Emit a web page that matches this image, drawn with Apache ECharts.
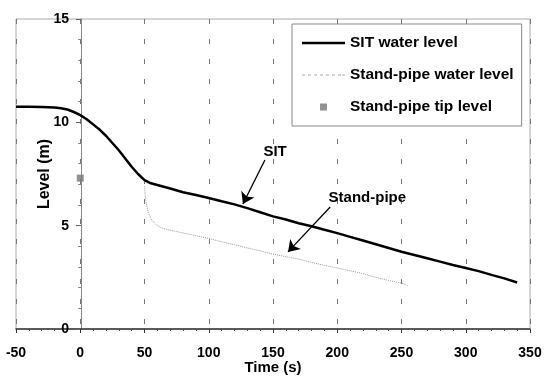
<!DOCTYPE html>
<html>
<head>
<meta charset="utf-8">
<script src="https://cdn.jsdelivr.net/npm/echarts@6/dist/echarts.min.js"></script>
<style>
    html, body { margin: 0; padding: 0; background: #fff; }
    #chart { width: 544px; height: 376px; }
</style>
</head>
<body>
<div id="chart"></div>
<script>
// SIT water level
const sitTime = [-50, -40, -30, -20, -15, -10, -5, 0, 5, 10, 15, 20, 25, 30, 35, 40, 45, 50, 55, 60,
    70, 80, 90, 100, 110, 120, 130, 140, 150, 160, 170, 180, 190, 200, 210, 220, 230, 240, 250,
    260, 270, 280, 290, 300, 310, 320, 330, 340];
const sitLevel = [10.75, 10.75, 10.74, 10.72, 10.68, 10.62, 10.5, 10.35, 10.15, 9.9, 9.65, 9.35, 9.0, 8.65, 8.25, 7.85, 7.5, 7.2, 7.05, 6.97,
    6.8, 6.62, 6.48, 6.34, 6.18, 6.03, 5.85, 5.65, 5.45, 5.3, 5.12, 4.97, 4.8, 4.64, 4.46, 4.28, 4.1, 3.92, 3.74,
    3.58, 3.42, 3.26, 3.1, 2.95, 2.8, 2.62, 2.45, 2.25];

// stand-pipe water level
const pipeTime = [50, 51, 53, 56, 60, 65, 70, 80, 90, 100, 110, 120, 130, 140, 150, 160, 170, 180,
    190, 200, 210, 220, 230, 240, 250, 255];
const pipeLevel = [6.9, 6.2, 5.6, 5.25, 5.0, 4.85, 4.78, 4.65, 4.52, 4.38, 4.22, 4.08, 3.92, 3.78, 3.62, 3.5, 3.38, 3.22,
    3.08, 2.95, 2.82, 2.68, 2.5, 2.35, 2.22, 2.1];

// stand-pipe tip level (single point)
const tipTime = [0];
const tipLevel = [7.3];

// annotations: [text x, text y], arrow [from x, from y, to x, to y]
const sitNote = { text: 'SIT', at: [151.6, 8.56], arrow: [143.7, 8.18, 126.6, 6.05] };
const pipeNote = { text: 'Stand-pipe', at: [223.4, 6.34], arrow: [194.5, 5.9, 161.7, 3.73] };

const zip = (xs, ys) => xs.map((x, i) => [x, ys[i]]);

const FONT = '"Liberation Sans", Arial, sans-serif';

// legend glyphs: solid bar, row of faint dashes, small square
const ICON_SOLID = 'path://M0,0H43V2.4H0Z';
const ICON_DOTS = 'path://M0,0H3V1H0Z M6,0H9V1H6Z M12,0H15V1H12Z M18,0H21V1H18Z M24,0H27V1H24Z M30,0H33V1H30Z M36,0H39V1H36Z M40,0H43V1H40Z';
const ICON_TIP = 'path://M0,0L0.01,0L0,0.01Z M43,14L42.99,14L43,13.99Z M18,3.5H25V10.5H18Z';

const myChart = echarts.init(document.getElementById('chart'));

function note(n) {
    return {
        markPoint: {
            symbol: 'circle',
            symbolSize: 0,
            label: {
                show: true,
                formatter: n.text,
                color: '#000',
                fontFamily: FONT,
                fontWeight: 'bold',
                fontSize: 15
            },
            data: [{ coord: n.at }]
        },
        markLine: {
            silent: true,
            symbol: ['none', 'arrow'],
            symbolSize: 11,
            label: { show: false },
            lineStyle: { color: '#000', width: 1.3, type: 'solid' },
            data: [[{ coord: [n.arrow[0], n.arrow[1]] }, { coord: [n.arrow[2], n.arrow[3]] }]]
        }
    };
}

const option = {
    animation: false,
    backgroundColor: '#fff',
    grid: {
        left: 16,
        right: 14,
        top: 19,
        bottom: 47,
        containLabel: false,
        outerBoundsMode: 'none',
        show: true,
        borderColor: '#aaa',
        borderWidth: 1
    },
    legend: {
        left: 292,
        top: 24,
        orient: 'vertical',
        itemWidth: 43,
        itemHeight: 14,
        itemGap: 16,
        padding: [11, 8, 11, 10],
        borderColor: '#888',
        borderWidth: 1,
        backgroundColor: '#fff',
        textStyle: { fontFamily: FONT, fontWeight: 'bold', fontSize: 15.5, color: '#000' },
        data: [
            { name: 'SIT water level', icon: ICON_SOLID, itemStyle: { color: '#000' } },
            { name: 'Stand-pipe water level', icon: ICON_DOTS, itemStyle: { color: '#aaa' } },
            { name: 'Stand-pipe tip level', icon: ICON_TIP }
        ]
    },
    xAxis: {
        type: 'value',
        min: -50,
        max: 350,
        interval: 50,
        name: 'Time (s)',
        nameLocation: 'middle',
        nameGap: 31,
        nameMoveOverlap: false,
        nameTextStyle: { fontFamily: FONT, fontWeight: 'bold', fontSize: 15, color: '#000' },
        axisLine: { onZero: false, lineStyle: { color: '#333', width: 1.5 } },
        axisTick: { show: true, length: 4, lineStyle: { color: '#333' } },
        minorTick: { show: true, splitNumber: 5, length: 2, lineStyle: { color: '#555' } },
        axisLabel: { fontFamily: FONT, fontWeight: 'bold', fontSize: 14, color: '#000', margin: 17 },
        splitLine: { show: true, lineStyle: { color: '#777', width: 1, type: [5, 15] } }
    },
    yAxis: {
        type: 'value',
        min: 0,
        max: 15,
        interval: 5,
        position: 'left',
        offset: -65,
        name: 'Level (m)',
        nameLocation: 'middle',
        nameRotate: 90,
        nameGap: 28,
        nameMoveOverlap: false,
        nameTextStyle: { fontFamily: FONT, fontWeight: 'bold', fontSize: 16, color: '#000' },
        axisLine: { show: true, onZero: false, lineStyle: { color: '#888', width: 1 } },
        axisTick: { show: true, length: 5, lineStyle: { color: '#666' } },
        minorTick: { show: true, splitNumber: 5, length: 3, lineStyle: { color: '#888' } },
        axisLabel: { fontFamily: FONT, fontWeight: 'bold', fontSize: 14, color: '#000', margin: 12 },
        splitLine: { show: false }
    },
    series: [
        Object.assign({
            name: 'SIT water level',
            type: 'line',
            symbol: 'none',
            z: 3,
            lineStyle: { color: '#000', width: 2.5 },
            itemStyle: { color: '#000' },
            data: zip(sitTime, sitLevel)
        }, note(sitNote)),
        Object.assign({
            name: 'Stand-pipe water level',
            type: 'line',
            symbol: 'none',
            lineStyle: { color: '#999', width: 1, type: 'dotted' },
            itemStyle: { color: '#999' },
            data: zip(pipeTime, pipeLevel)
        }, note(pipeNote)),
        {
            name: 'Stand-pipe tip level',
            type: 'scatter',
            symbol: 'rect',
            symbolSize: 7,
            z: 4,
            itemStyle: { color: '#777' },
            data: zip(tipTime, tipLevel)
        }
    ]
};

myChart.setOption(option);
</script>
</body>
</html>
